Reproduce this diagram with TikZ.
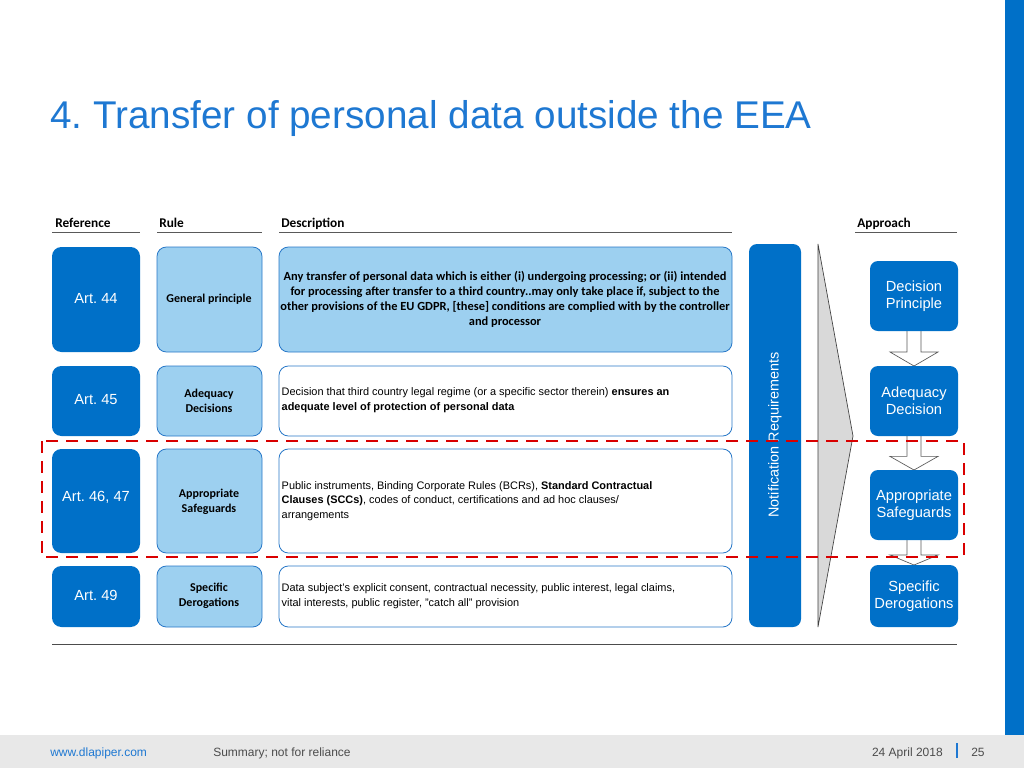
\documentclass[tikz,border=0pt]{standalone}
\usepackage{fontspec}
\setmainfont{Liberation Sans}
\newfontfamily\carlito{Carlito}
\definecolor{dblue}{RGB}{0,112,200}
\definecolor{lblue}{RGB}{157,208,240}
\definecolor{tblue}{RGB}{30,120,210}
\definecolor{edge}{RGB}{40,120,200}
\frenchspacing
\begin{document}
\begin{tikzpicture}[x=0.75pt,y=-0.75pt,
 refbox/.style={fill=dblue,draw=none,rounded corners=7pt},
 rulebox/.style={fill=lblue,draw=edge,line width=0.6pt,rounded corners=7pt},
 descbox/.style={fill=white,draw=edge,line width=0.6pt,rounded corners=7pt},
 reftext/.style={text=white,font=\fontsize{11}{13}\selectfont},
 ruletext/.style={align=center,font=\carlito\bfseries\fontsize{9}{11}\selectfont},
 apbox/.style={fill=dblue,rounded corners=6pt,text=white,font=\fontsize{11}{13}\selectfont,align=center,minimum width=88*0.75pt},
 hdr/.style={anchor=base west,inner sep=0,font=\carlito\bfseries\fontsize{10}{11}\selectfont},
 dtext/.style={anchor=west,align=left,font=\fontsize{8.2}{11}\selectfont},
 darrow/.style={fill=white,draw=gray!70!black,line width=0.5pt}]
\useasboundingbox (0,0) rectangle (1024,768);
\fill[white] (0,0) rectangle (1024,768);
\fill[dblue] (1005,0) rectangle (1024,735);
\fill[gray!18] (0,735) rectangle (1024,768);
\node[anchor=base west,text=tblue,font=\fontsize{29}{32}\selectfont,inner sep=0] (title) at (50,128) {4. Transfer of personal data outside the EEA};
% headers
\node[hdr] (h1) at (55,227) {Reference};
\node[hdr] (h2) at (159,227) {Rule};
\node[hdr] (h3) at (281,227) {Description};
\node[hdr] (h4) at (857,227) {Approach};
\draw[gray!70!black,line width=0.6pt] (52,232)--(140,232) (157,232)--(262,232) (279,232)--(732,232) (855,232)--(957,232);
% row 1
\path[refbox] (52,247) rectangle (140,352); \node[reftext] (r1) at (96,299) {Art. 44};
\path[rulebox] (157,247) rectangle (262,352); \node[ruletext] (u1) at (209,299) {General principle};
\path[descbox,fill=lblue] (279,247) rectangle (732,352);
\node[align=center,font=\carlito\bfseries\fontsize{9.3}{11.2}\selectfont] (d1) at (505,299) {Any transfer of personal data which is either (i) undergoing processing; or (ii) intended\\ for processing after transfer to a third country..may only take place if, subject to the\\ other provisions of the EU GDPR, [these] conditions are complied with by the controller\\ and processor};
% row 2
\path[refbox] (52,366) rectangle (140,436); \node[reftext] (r2) at (96,400) {Art. 45};
\path[rulebox] (157,366) rectangle (262,436); \node[ruletext] (u2) at (209,401) {Adequacy\\Decisions};
\path[descbox] (279,366) rectangle (732,436);
\node[dtext] (d2) at (277,400) {Decision that third country legal regime (or a specific sector therein) \textbf{ensures an}\\ \textbf{adequate level of protection of personal data}};
% row 3
\path[refbox] (52,449) rectangle (140,553); \node[reftext] (r3) at (96,497) {Art. 46, 47};
\path[rulebox] (157,449) rectangle (262,553); \node[ruletext] (u3) at (209,502) {Appropriate\\Safeguards};
\path[descbox] (279,449) rectangle (732,553);
\node[dtext] (d3) at (277,501) {Public instruments, Binding Corporate Rules (BCRs), \textbf{Standard Contractual}\\ \textbf{Clauses (SCCs)}, codes of conduct, certifications and ad hoc clauses/\\ arrangements};
% row 4
\path[refbox] (52,566) rectangle (140,627); \node[reftext] (r4) at (96,595) {Art. 49};
\path[rulebox] (157,566) rectangle (262,627); \node[ruletext] (u4) at (209,596) {Specific\\Derogations};
\path[descbox] (279,566) rectangle (732,627);
\node[dtext] (d4) at (277,596) {Data subject's explicit consent, contractual necessity, public interest, legal claims,\\ vital interests, public register, "catch all" provision};
% notification bar
\path[fill=dblue,rounded corners=6pt] (749,244) rectangle (801,627);
\node[rotate=90,text=white,font=\fontsize{10.8}{12}\selectfont] (nr) at (775,435) {Notification Requirements};
\draw[fill=gray!30,draw=gray!50!black,line width=0.5pt] (818,244)--(853,436)--(818,627)--cycle;
% approach arrows
\foreach \ya/\yb in {331/366,436/470,540/565}{
 \draw[darrow] (907,\ya) -- (907,{\ya+0.6*(\yb-\ya)}) -- (890,{\ya+0.6*(\yb-\ya)}) -- (914,\yb) -- (938,{\ya+0.6*(\yb-\ya)}) -- (921,{\ya+0.6*(\yb-\ya)}) -- (921,\ya);
}
\node[apbox,minimum height=70*0.75pt] (a1) at (914,296) {Decision\\Principle};
\node[apbox,minimum height=70*0.75pt] (a2) at (914,401) {Adequacy\\Decision};
\node[apbox,minimum height=70*0.75pt] (a3) at (914,505) {Appropriate\\Safeguards};
\node[apbox,minimum height=62*0.75pt] (a4) at (914,596) {Specific\\Derogations};
% dashed red
\draw[red!85!black,dash pattern=on 9pt off 6pt,line width=1.1pt] (42,441) rectangle (964,557);
\draw[gray!60!black,line width=0.6pt] (52,644)--(957,644);
% footer
\node[anchor=base west,text=tblue,font=\fontsize{9}{11}\selectfont,inner sep=0] (f1) at (50,756) {www.dlapiper.com};
\node[anchor=base west,text=gray!60!black,font=\fontsize{9}{11}\selectfont,inner sep=0] (f2) at (213,756) {Summary; not for reliance};
\node[anchor=base east,text=gray!60!black,font=\fontsize{9}{11}\selectfont,inner sep=0] (f3) at (943,756) {24 April 2018};
\fill[tblue] (956,743) rectangle (958,758);
\node[anchor=base west,text=gray!60!black,font=\fontsize{9}{11}\selectfont,inner sep=0] (f4) at (971,756) {25};
\end{tikzpicture}
\end{document}
